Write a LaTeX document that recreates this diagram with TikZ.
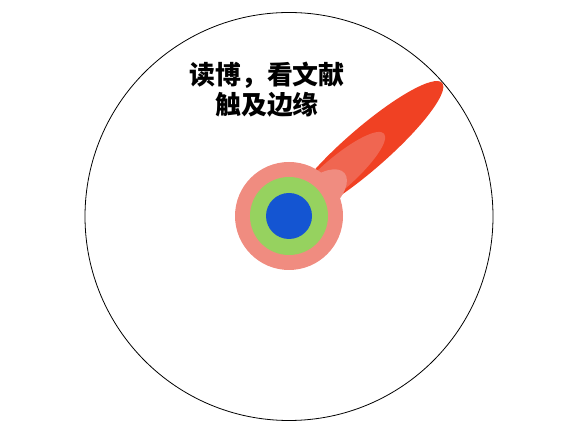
\documentclass[tikz,border=0pt]{standalone}
\usepackage{fontspec}
\newfontfamily\cjk{Noto Sans CJK SC}
\usepackage{tikz}

\definecolor{pinred}{RGB}{240,65,35}
\definecolor{pinsalmon}{RGB}{240,140,128}
\definecolor{pingreen}{RGB}{150,210,95}
\definecolor{pinblue}{RGB}{20,85,210}

\begin{document}
\begin{tikzpicture}[x=1bp, y=1bp]
	\useasboundingbox (0,0) rectangle (578,433);
	\coordinate (o) at (289,217);
	\draw [line width=0.8bp] (289,216.5) circle (204);

	% the needle
	\fill[pinred, rotate around={41:(365.5,283.5)}] (365.5,283.5) ellipse (101.5 and 21);
	\fill[pinsalmon, opacity=0.5, rotate around={41:(336.5,258)}] (336.5,258) ellipse (63 and 16);
	\fill[pinsalmon, rotate around={41:(318,237)}] (318,237) ellipse (35 and 18);

	% the target
	\fill[pinsalmon] (o) circle (54);
	\fill[pingreen] (o) circle (39);
	\fill[pinblue] (o) circle (23);

	\node [align=center, font=\cjk\bfseries\fontsize{26}{30}\selectfont] (title) at (267,343)
		{读博，看文献\\触及边缘};
\end{tikzpicture}
\end{document}
